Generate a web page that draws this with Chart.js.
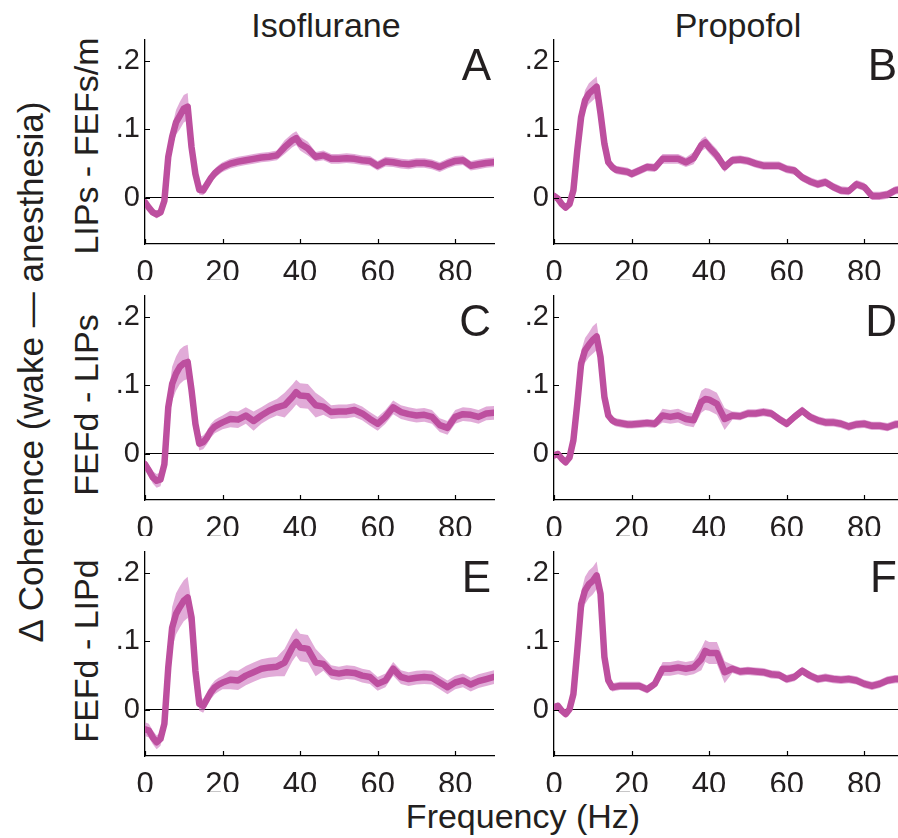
<!DOCTYPE html>
<html lang="en">
<head>
<meta charset="UTF-8">
<title>Δ Coherence (wake — anesthesia)</title>
<script src="https://cdn.jsdelivr.net/npm/chart.js"></script>
<style>
    html, body { margin: 0; padding: 0; background: #fff; }
    body { width: 898px; height: 838px; position: relative; overflow: hidden;
           font-family: "Liberation Sans", Arial, sans-serif; color: #231f20; }
    .txt { position: absolute; white-space: nowrap; line-height: 1; }
    .title { font-size: 34px; transform: translateX(-50%); }
    .letter { font-size: 44px; transform: translateX(-100%); }
    .ylab { font-size: 34px; transform: translate(-50%, -50%) rotate(-90deg); }
    .panel { position: absolute; width: 400px; height: 270px; }
</style>
</head>
<body>

<div class="txt title" style="left:326px; top:8px;">Isoflurane</div>
<div class="txt title" style="left:738px; top:8px;">Propofol</div>
<div class="txt ylab" style="left:30px; top:372px; font-size:35px;">Δ Coherence (wake — anesthesia)</div>
<div class="txt ylab" style="left:86px; top:146px;">LIPs - FEFs/m</div>
<div class="txt ylab" style="left:86px; top:405px;">FEFd - LIPs</div>
<div class="txt ylab" style="left:86px; top:651px;">FEFd - LIPd</div>
<div class="txt title" style="left:523px; top:799px;">Frequency (Hz)</div>

<script>
    // frequency axis (Hz)
    const freq = [0,1,2,3,4,5,6,7,8,9,10,11,12,13,14,15,16,17,18,19,20,
                  22,24,26,28,30,32,34,36,38,39,40,42,44,46,48,50,52,54,56,58,
                  60,62,64,66,68,70,72,74,76,78,80,82,84,86,88,90];

    const xTicks = [0, 20, 40, 60, 80];
    const yTicks = [0, 0.1, 0.2];
    const yTickLabels = ['0', '.1', '.2'];
    const panelLetters = ['A', 'B', 'C', 'D', 'E', 'F'];

    // mean difference in coherence, one array per panel
    const cohA = [-0.006,-0.014,-0.021,-0.024,-0.021,-0.004,0.06,0.089,0.11,0.12,0.13,0.133,0.074,0.035,0.012,0.011,0.02,0.029,0.036,0.041,0.045,
                  0.05,0.053,0.055,0.057,0.059,0.06,0.062,0.074,0.084,0.087,0.079,0.072,0.06,0.062,0.057,0.057,0.058,0.057,0.055,0.054,
                  0.047,0.053,0.052,0.05,0.049,0.051,0.051,0.049,0.045,0.05,0.054,0.055,0.047,0.049,0.051,0.052];
    const cohB = [0.003,-0.001,-0.009,-0.014,-0.009,0.011,0.069,0.118,0.142,0.152,0.157,0.162,0.123,0.079,0.052,0.045,0.041,0.04,0.039,0.038,0.035,
                  0.04,0.045,0.044,0.057,0.057,0.057,0.052,0.058,0.077,0.081,0.074,0.062,0.045,0.055,0.056,0.054,0.05,0.047,0.047,0.047,
                  0.042,0.04,0.03,0.024,0.02,0.023,0.016,0.011,0.01,0.02,0.016,0.003,0.003,0.005,0.011,0.013];
    const cohC = [-0.015,-0.024,-0.034,-0.039,-0.037,-0.015,0.068,0.102,0.117,0.127,0.132,0.134,0.093,0.044,0.015,0.017,0.024,0.034,0.04,0.043,0.046,
                  0.051,0.05,0.056,0.048,0.056,0.063,0.068,0.071,0.083,0.09,0.085,0.084,0.071,0.069,0.061,0.062,0.062,0.064,0.059,0.051,
                  0.044,0.054,0.068,0.061,0.058,0.056,0.057,0.054,0.042,0.038,0.054,0.058,0.057,0.054,0.059,0.06];
    const cohD = [-0.002,0,-0.007,-0.012,-0.005,0.02,0.073,0.132,0.151,0.159,0.166,0.171,0.141,0.083,0.056,0.049,0.046,0.045,0.044,0.043,0.043,
                  0.044,0.045,0.044,0.056,0.054,0.056,0.051,0.049,0.076,0.08,0.079,0.073,0.051,0.056,0.055,0.059,0.059,0.061,0.059,0.051,
                  0.044,0.054,0.063,0.054,0.049,0.046,0.046,0.044,0.04,0.043,0.044,0.041,0.041,0.039,0.043,0.044];
    const cohE = [-0.028,-0.03,-0.04,-0.047,-0.042,-0.02,0.062,0.12,0.14,0.15,0.159,0.164,0.135,0.057,0.009,0.006,0.016,0.026,0.033,0.037,0.04,
                  0.044,0.043,0.05,0.055,0.06,0.062,0.063,0.069,0.091,0.099,0.091,0.089,0.069,0.067,0.055,0.053,0.055,0.054,0.05,0.048,
                  0.038,0.043,0.06,0.048,0.045,0.047,0.048,0.047,0.04,0.033,0.04,0.043,0.037,0.042,0.045,0.048];
    const cohF = [0.004,0.006,-0.001,-0.006,0.001,0.023,0.086,0.154,0.174,0.183,0.188,0.196,0.169,0.077,0.043,0.033,0.034,0.035,0.035,0.035,0.035,
                  0.035,0.03,0.038,0.06,0.06,0.062,0.06,0.062,0.074,0.086,0.083,0.083,0.055,0.06,0.056,0.057,0.056,0.055,0.052,0.051,
                  0.045,0.048,0.057,0.05,0.045,0.047,0.045,0.044,0.045,0.043,0.038,0.035,0.038,0.043,0.045,0.045];

    // half-width of the shaded error band
    const errA = [0.005,0.005,0.005,0.006,0.005,0.005,0.008,0.015,0.018,0.02,0.02,0.02,0.012,0.007,0.007,0.007,0.007,0.007,0.007,0.007,0.007,
                  0.007,0.007,0.007,0.007,0.007,0.007,0.007,0.01,0.01,0.01,0.01,0.01,0.007,0.007,0.007,0.007,0.007,0.007,0.007,0.007,
                  0.007,0.007,0.007,0.007,0.007,0.007,0.007,0.007,0.007,0.007,0.007,0.007,0.007,0.007,0.007,0.007];
    const errB = [0.005,0.005,0.005,0.005,0.005,0.005,0.01,0.012,0.015,0.015,0.015,0.015,0.01,0.006,0.006,0.006,0.006,0.006,0.006,0.006,0.006,
                  0.006,0.006,0.006,0.007,0.007,0.007,0.007,0.009,0.009,0.009,0.009,0.009,0.007,0.006,0.006,0.006,0.006,0.006,0.006,0.006,
                  0.006,0.006,0.006,0.006,0.006,0.006,0.006,0.006,0.006,0.006,0.006,0.006,0.006,0.006,0.006,0.006];
    const errC = [0.007,0.008,0.009,0.01,0.01,0.008,0.015,0.025,0.025,0.025,0.025,0.025,0.015,0.01,0.01,0.01,0.01,0.01,0.01,0.01,0.01,
                  0.012,0.012,0.012,0.014,0.012,0.012,0.012,0.018,0.018,0.018,0.018,0.018,0.018,0.012,0.01,0.01,0.01,0.01,0.01,0.01,
                  0.01,0.01,0.01,0.01,0.01,0.01,0.01,0.01,0.01,0.01,0.01,0.01,0.01,0.01,0.01,0.01];
    const errD = [0.005,0.005,0.005,0.005,0.005,0.005,0.01,0.018,0.018,0.018,0.02,0.02,0.012,0.006,0.006,0.006,0.006,0.006,0.006,0.006,0.006,
                  0.006,0.006,0.006,0.01,0.01,0.01,0.01,0.01,0.016,0.016,0.016,0.016,0.016,0.006,0.006,0.006,0.006,0.006,0.006,0.006,
                  0.006,0.006,0.006,0.006,0.006,0.006,0.006,0.006,0.006,0.006,0.006,0.006,0.006,0.006,0.006,0.006];
    const errE = [0.01,0.01,0.01,0.01,0.01,0.01,0.02,0.03,0.03,0.03,0.03,0.03,0.02,0.01,0.01,0.01,0.01,0.01,0.01,0.01,0.01,
                  0.014,0.014,0.014,0.014,0.014,0.014,0.014,0.02,0.02,0.02,0.02,0.02,0.02,0.01,0.01,0.01,0.01,0.01,0.01,0.01,
                  0.01,0.01,0.01,0.01,0.01,0.01,0.01,0.01,0.01,0.01,0.01,0.01,0.01,0.01,0.01,0.01];
    const errF = [0.005,0.005,0.005,0.005,0.005,0.005,0.012,0.018,0.02,0.02,0.02,0.02,0.012,0.006,0.006,0.006,0.006,0.006,0.006,0.006,0.006,
                  0.006,0.006,0.006,0.01,0.01,0.01,0.01,0.01,0.016,0.016,0.016,0.016,0.016,0.006,0.006,0.006,0.006,0.006,0.006,0.006,
                  0.006,0.006,0.006,0.006,0.006,0.006,0.006,0.006,0.006,0.006,0.006,0.006,0.006,0.006,0.006,0.006];

    const series = [cohA, cohB, cohC, cohD, cohE, cohF];
    const errors = [errA, errB, errC, errD, errE, errF];

    const lineColor = '#bd4f9f';
    const bandColor = 'rgba(207, 120, 192, 0.62)';
    const ink = '#231f20';
    const font = '"Liberation Sans", Arial, sans-serif';

    // canvas columns and rows; plot area starts 45px right / 30px below these
    const colLeft = [100, 509];
    const plotTop = [40, 296, 552];
    const padTop = 30;

    // small inward tick marks like the original figure
    const inwardTicks = {
        id: 'inwardTicks',
        afterDraw(chart) {
            const ctx = chart.ctx;
            const area = chart.chartArea;
            const xs = chart.scales.x, ys = chart.scales.y;
            ctx.save();
            ctx.strokeStyle = '#000';
            ctx.lineWidth = 1.2;
            ctx.beginPath();
            xTicks.forEach(v => {
                const px = Math.round(xs.getPixelForValue(v)) + 0.5;
                ctx.moveTo(px, area.bottom);
                ctx.lineTo(px, area.bottom - 5);
            });
            yTicks.forEach(v => {
                const py = Math.round(ys.getPixelForValue(v)) + 0.5;
                ctx.moveTo(area.left, py);
                ctx.lineTo(area.left + 5, py);
            });
            ctx.stroke();
            ctx.restore();
        }
    };

    function makePanel(i) {
        const col = i % 2, row = Math.floor(i / 2);
        const wrap = document.createElement('div');
        wrap.className = 'panel';
        wrap.style.left = colLeft[col] + 'px';
        wrap.style.top = (plotTop[row] - padTop) + 'px';
        const canvas = document.createElement('canvas');
        canvas.width = 400;
        canvas.height = 270;
        wrap.appendChild(canvas);
        document.body.appendChild(wrap);

        const letter = document.createElement('div');
        letter.className = 'txt letter';
        letter.textContent = panelLetters[i];
        letter.style.left = (col ? 897 : 491) + 'px';
        letter.style.top = (plotTop[row] + 3) + 'px';
        document.body.appendChild(letter);

        const vals = series[i], err = errors[i];
        const mean = freq.map((f, k) => ({ x: f, y: vals[k] }));
        const upper = freq.map((f, k) => ({ x: f, y: vals[k] + err[k] }));
        const lower = freq.map((f, k) => ({ x: f, y: vals[k] - err[k] }));

        new Chart(canvas, {
            type: 'line',
            data: {
                datasets: [
                    { data: mean, borderColor: lineColor, borderWidth: 6.5, fill: false,
                      borderJoinStyle: 'round', borderCapStyle: 'round' },
                    { data: upper, borderWidth: 0, borderColor: 'rgba(0,0,0,0)', backgroundColor: bandColor, fill: '+1' },
                    { data: lower, borderWidth: 0, borderColor: 'rgba(0,0,0,0)', fill: false }
                ]
            },
            options: {
                responsive: false,
                animation: false,
                layout: { padding: { top: padTop, right: 6, left: 0, bottom: 0 } },
                plugins: { legend: { display: false }, tooltip: { enabled: false } },
                elements: { point: { radius: 0 }, line: { tension: 0 } },
                scales: {
                    x: {
                        type: 'linear', min: 0, max: 90,
                        afterBuildTicks: s => { s.ticks = xTicks.map(v => ({ value: v })); },
                        afterFit: s => { s.height = 36; },
                        grid: { display: false },
                        border: { display: true, color: '#000', width: 1.3 },
                        ticks: { color: ink, font: { family: font, size: 31 }, padding: 3,
                                 maxRotation: 0, autoSkip: false, callback: v => String(v) }
                    },
                    y: {
                        type: 'linear', min: -0.067, max: 0.23,
                        afterBuildTicks: s => { s.ticks = yTicks.map(v => ({ value: v })); },
                        afterFit: s => { s.width = 45; },
                        grid: { drawTicks: false, lineWidth: 1,
                                color: c => (c.tick && c.tick.value === 0) ? '#000' : 'rgba(0,0,0,0)' },
                        border: { display: true, color: '#000', width: 1.3 },
                        ticks: { color: ink, font: { family: font, size: 29 }, padding: 5,
                                 autoSkip: false, callback: v => yTickLabels[yTicks.indexOf(v)] }
                    }
                }
            },
            plugins: [inwardTicks]
        });
    }

    for (let i = 0; i < 6; i++) makePanel(i);
</script>

</body>
</html>
